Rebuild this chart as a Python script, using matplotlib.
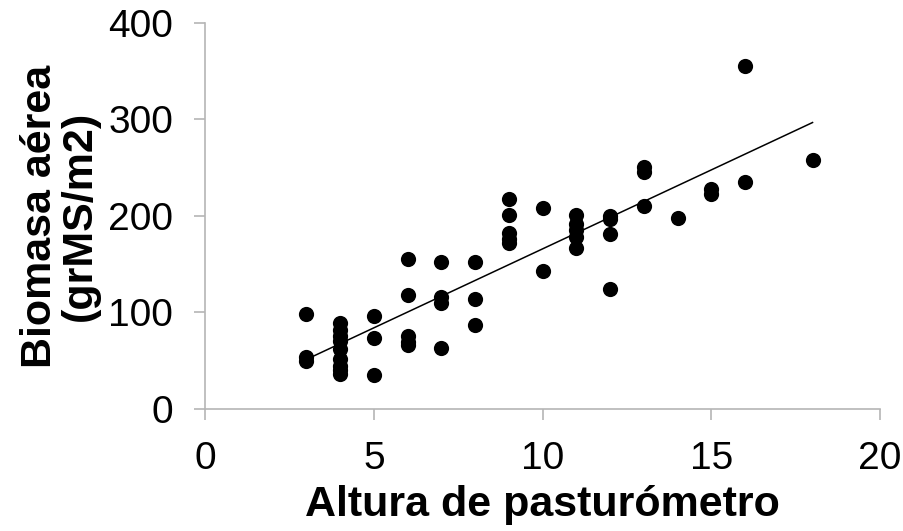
import numpy as np
import matplotlib
matplotlib.use('Agg')
import matplotlib.pyplot as plt

plt.rcParams['font.family'] = ['Liberation Sans', 'DejaVu Sans']

# altura (x) y biomasa (y)
altura = [3, 3, 3,
          4, 4, 4, 4, 4, 4, 4, 4, 4,
          5, 5, 5,
          6, 6, 6, 6, 6,
          7, 7, 7, 7,
          8, 8, 8,
          9, 9, 9, 9, 9,
          10, 10,
          11, 11, 11, 11, 11,
          12, 12, 12, 12,
          13, 13, 13,
          14,
          15, 15,
          16, 16,
          18]
biomasa = [98, 54, 50,
           89, 82, 76, 70, 62, 52, 45, 40, 36,
           96, 74, 35,
           155, 118, 76, 69, 66,
           152, 116, 110, 63,
           152, 114, 87,
           218, 201, 182, 176, 172,
           208, 143,
           201, 192, 185, 178, 167,
           200, 197, 181, 124,
           251, 246, 210,
           198,
           228, 223,
           355, 235,
           258]

xticks = [0, 5, 10, 15, 20]
yticks = [0, 100, 200, 300, 400]

fig = plt.figure(figsize=(9.04, 5.31), dpi=100)
ax = fig.add_axes([0.2268, 0.2298, 0.7467, 0.7269])

ax.scatter(altura, biomasa, s=120, color='black', zorder=3, linewidths=0)

# linea de tendencia lineal
m, b = np.polyfit(altura, biomasa, 1)
xs = np.array([min(altura), max(altura)])
ax.plot(xs, m * xs + b, color='black', lw=1.1)

ax.set_xlim(0, 20)
ax.set_ylim(0, 400)
ax.set_xticks(xticks)
ax.set_yticks(yticks)

for s in ['top', 'right']:
    ax.spines[s].set_visible(False)
for s in ['left', 'bottom']:
    ax.spines[s].set_color('#b5b5b5')
    ax.spines[s].set_linewidth(1.2)
ax.tick_params(axis='both', direction='out', length=8, width=1.2, color='#b5b5b5',
               labelsize=28, pad=15)

ax.set_xlabel('Altura de pasturómetro', fontsize=31, fontweight='bold', labelpad=6)
ax.set_ylabel('Biomasa aérea\n(grMS/m2)', fontsize=31, fontweight='bold', labelpad=6,
              linespacing=1.0)

fig.savefig('out.png', dpi=100)
